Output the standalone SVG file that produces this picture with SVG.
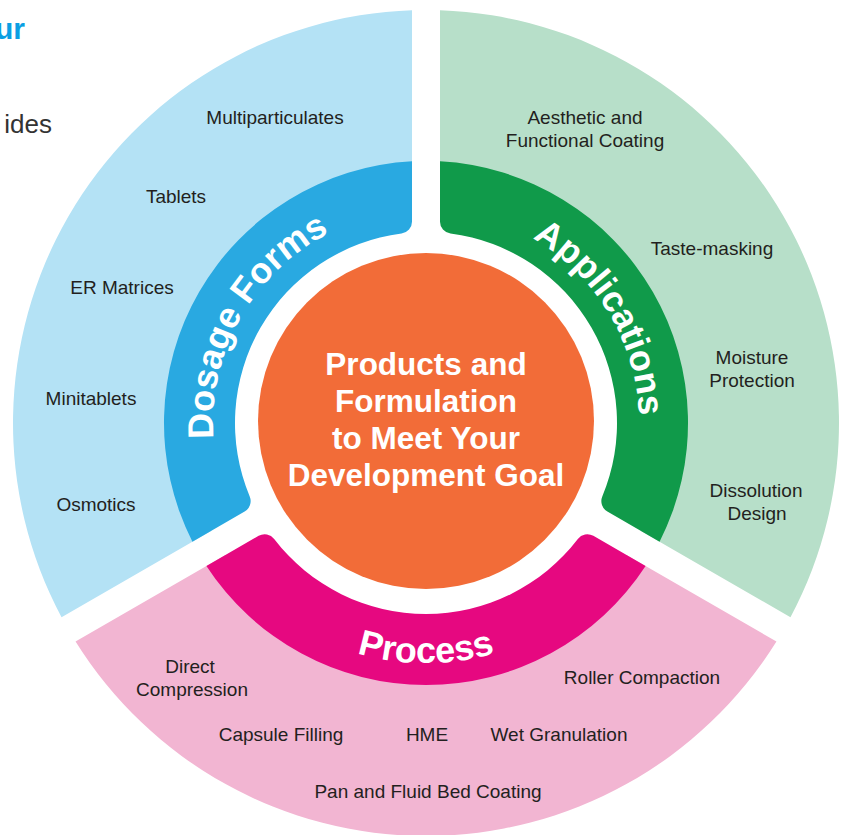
<svg xmlns="http://www.w3.org/2000/svg" width="847" height="835" viewBox="0 0 847 835">
<defs>
<style>
.item{font-family:"Liberation Sans",Arial,Helvetica,sans-serif;font-size:19px;fill:#231f20;text-anchor:middle}
.ring{font-family:"Liberation Sans",Arial,Helvetica,sans-serif;font-size:36px;font-weight:bold;fill:#ffffff}
.core{font-family:"Liberation Sans",Arial,Helvetica,sans-serif;font-size:31.5px;font-weight:bold;fill:#ffffff;text-anchor:middle}
</style>
<path id="outerSector" d="M14,-239.59 L14,-412.76 A413 413 0 0 1 364.46,194.26 L214.49,107.67 A240 240 0 0 0 14,-239.59 Z"/>
<path id="innerSector" d="M14,-261.63 L14,-201.33 A12 12 0 0 0 24.46,-189.43 A191 191 0 0 1 176.28,73.53 A12 12 0 0 0 181.36,88.54 L233.58,118.69 A262 262 0 0 0 14,-261.63 Z"/>
<path id="arcDosage" d="M-135.2,164.6 A213 213 0 0 1 70.8,-200.9"/>
<path id="arcApps" d="M-76.3,-198.9 A213 213 0 0 1 139.7,160.8"/>
<path id="arcProcess" d="M-236.4,41.7 A240 240 0 0 0 236.4,41.7"/>
</defs>
<rect width="847" height="835" fill="#ffffff"/>
<g id="page-fragments">
<text x="25" y="39" text-anchor="end" style="font-family:'Liberation Sans',Arial,sans-serif;font-size:30px;font-weight:bold;fill:#0a9fe3">ur</text>
<text x="52" y="133" text-anchor="end" style="font-family:'Liberation Sans',Arial,sans-serif;font-size:26px;fill:#333333">ides</text>
</g>
<g id="dosage-forms">
<g transform="translate(426,423) rotate(240)">
<use href="#outerSector" fill="#b4e2f5"/>
<use href="#innerSector" fill="#29a9e1"/>
</g>
<text class="ring" transform="translate(426,423)"><textPath href="#arcDosage" startOffset="50%" text-anchor="middle">Dosage Forms</textPath></text>
<text class="item" x="275" y="124">Multiparticulates</text>
<text class="item" x="176" y="203">Tablets</text>
<text class="item" x="122" y="294">ER Matrices</text>
<text class="item" x="91" y="405">Minitablets</text>
<text class="item" x="96" y="511">Osmotics</text>
</g>
<g id="applications">
<g transform="translate(426,423)">
<use href="#outerSector" fill="#b7dfc9"/>
<use href="#innerSector" fill="#109a4a"/>
</g>
<text class="ring" transform="translate(426,423)"><textPath href="#arcApps" startOffset="50%" text-anchor="middle">Applications</textPath></text>
<text class="item" x="585" y="124">Aesthetic and</text>
<text class="item" x="585" y="147">Functional Coating</text>
<text class="item" x="712" y="255">Taste-masking</text>
<text class="item" x="752" y="364">Moisture</text>
<text class="item" x="752" y="387">Protection</text>
<text class="item" x="756" y="497">Dissolution</text>
<text class="item" x="757" y="520">Design</text>
</g>
<g id="process">
<g transform="translate(426,423) rotate(120)">
<use href="#outerSector" fill="#f2b5d2"/>
<use href="#innerSector" fill="#e60880"/>
</g>
<text class="ring" transform="translate(426,423)"><textPath href="#arcProcess" startOffset="50%" text-anchor="middle">Process</textPath></text>
<text class="item" x="190" y="673">Direct</text>
<text class="item" x="192" y="696">Compression</text>
<text class="item" x="642" y="684">Roller Compaction</text>
<text class="item" x="281" y="741">Capsule Filling</text>
<text class="item" x="427" y="741">HME</text>
<text class="item" x="559" y="741">Wet Granulation</text>
<text class="item" x="428" y="798">Pan and Fluid Bed Coating</text>
</g>
<g id="center">
<circle cx="426" cy="421" r="168" fill="#f26c38"/>
<text class="core" x="426" y="375">Products and</text>
<text class="core" x="426" y="412">Formulation</text>
<text class="core" x="426" y="449">to Meet Your</text>
<text class="core" x="426" y="486">Development Goal</text>
</g>
<g id="connectors"/>
</svg>
